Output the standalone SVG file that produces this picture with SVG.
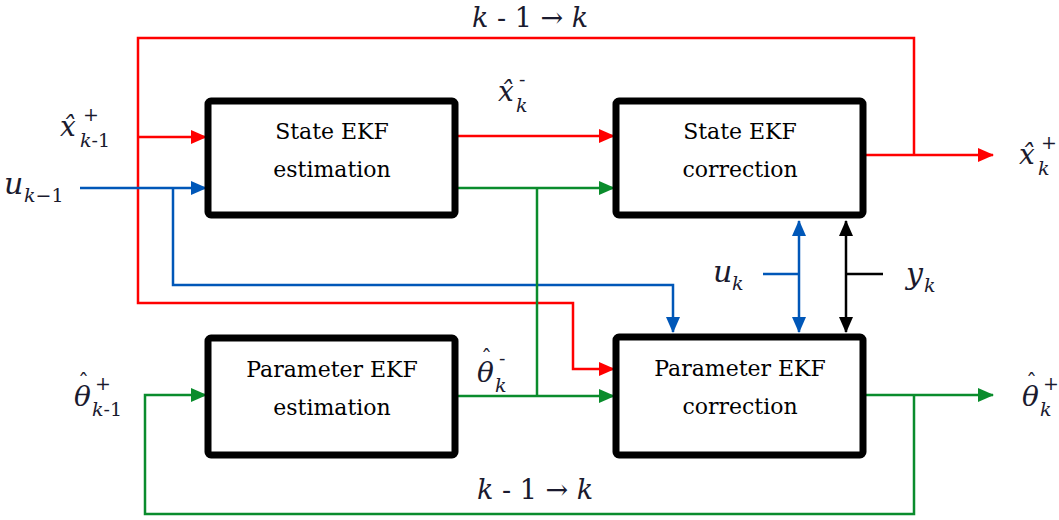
<svg xmlns="http://www.w3.org/2000/svg" width="1059" height="520" viewBox="0 0 1059 520">
<style>
.box{fill:#fff;stroke:#000;stroke-width:7;stroke-linejoin:round}
.bt{font-size:22px;fill:#000;text-anchor:middle}
.m{font-style:italic;fill:#1a1a2e}
.n{font-style:normal;fill:#1a1a2e}
.r{fill:none;stroke:#f00;stroke-width:2.5}
.b{fill:none;stroke:#0057b8;stroke-width:2.5}
.g{fill:none;stroke:#0a8c2c;stroke-width:2.5}
.k{fill:none;stroke:#000;stroke-width:2.5}
</style>
<defs>
<marker id="ar" markerUnits="userSpaceOnUse" markerWidth="16" markerHeight="14" refX="15" refY="7" orient="auto"><path d="M0,0 L16,7 L0,14 Z" fill="#f00"/></marker>
<marker id="ab" markerUnits="userSpaceOnUse" markerWidth="16" markerHeight="14" refX="15" refY="7" orient="auto"><path d="M0,0 L16,7 L0,14 Z" fill="#0057b8"/></marker>
<marker id="ag" markerUnits="userSpaceOnUse" markerWidth="16" markerHeight="14" refX="15" refY="7" orient="auto"><path d="M0,0 L16,7 L0,14 Z" fill="#0a8c2c"/></marker>
<marker id="abs" markerUnits="userSpaceOnUse" markerWidth="16" markerHeight="14" refX="15" refY="7" orient="auto-start-reverse"><path d="M0,0 L16,7 L0,14 Z" fill="#0057b8"/></marker>
<marker id="aks" markerUnits="userSpaceOnUse" markerWidth="16" markerHeight="14" refX="15" refY="7" orient="auto-start-reverse"><path d="M0,0 L16,7 L0,14 Z" fill="#000"/></marker>
</defs>
<rect width="1059" height="520" fill="#fff"/>
<g id="connectors">
<path class="r" d="M914,155 V38 H138 V303 H573 V369 H614" marker-end="url(#ar)"/>
<path class="r" d="M138,137 H206" marker-end="url(#ar)"/>
<path class="r" d="M458,136 H614" marker-end="url(#ar)"/>
<path class="r" d="M866,155 H993" marker-end="url(#ar)"/>
<path class="b" d="M80,188 H206" marker-end="url(#ab)"/>
<path class="b" d="M173,188 V285 H673 V332" marker-end="url(#ab)"/>
<path class="b" d="M799,221 V332" marker-start="url(#abs)" marker-end="url(#abs)"/>
<path class="b" d="M763,274 H799"/>
<path class="k" d="M846,221 V332" marker-start="url(#aks)" marker-end="url(#aks)"/>
<path class="k" d="M846,274 H883"/>
<path class="g" d="M458,188 H614" marker-end="url(#ag)"/>
<path class="g" d="M537,188 V396"/>
<path class="g" d="M458,396 H614" marker-end="url(#ag)"/>
<path class="g" d="M866,395 H993" marker-end="url(#ag)"/>
<path class="g" d="M914,395 V514 H145 V395 H206" marker-end="url(#ag)"/>
</g>
<g font-family="DejaVu Serif, Liberation Serif, serif">
<g id="state-est">
<rect class="box" x="208" y="101" width="247" height="114" rx="3"/>
<text class="bt" x="332" y="139">State EKF</text>
<text class="bt" x="332" y="177">estimation</text>
</g>
<g id="state-corr">
<rect class="box" x="616" y="101" width="247" height="114" rx="3"/>
<text class="bt" x="740" y="139">State EKF</text>
<text class="bt" x="740" y="177">correction</text>
</g>
<g id="param-est">
<rect class="box" x="208" y="338" width="247" height="117" rx="3"/>
<text class="bt" x="332" y="377">Parameter EKF</text>
<text class="bt" x="332" y="415">estimation</text>
</g>
<g id="param-corr">
<rect class="box" x="616" y="337" width="247" height="118" rx="3"/>
<text class="bt" x="740" y="376">Parameter EKF</text>
<text class="bt" x="740" y="414">correction</text>
</g>
<g id="labels">
<text class="m" font-size="27" x="472" y="27">k <tspan font-style="normal">- 1 → </tspan>k</text>
<text class="m" font-size="27" x="477" y="499">k <tspan font-style="normal">- 1 → </tspan>k</text>
<text class="m" font-size="28" x="60" y="136">x̂</text>
<text class="n" font-size="19" x="83" y="121">+</text>
<text class="m" font-size="19" x="80" y="147">k<tspan font-style="normal">-1</tspan></text>
<text class="m" font-size="30" x="4" y="194">u</text>
<text class="m" font-size="19" x="24" y="202">k<tspan font-style="normal">−1</tspan></text>
<text class="m" font-size="28" x="498" y="101">x̂</text>
<text class="n" font-size="19" x="519" y="86">-</text>
<text class="m" font-size="19" x="516" y="112">k</text>
<text class="m" font-size="28" x="1019" y="164">x̂</text>
<text class="n" font-size="19" x="1041" y="149">+</text>
<text class="m" font-size="19" x="1038" y="175">k</text>
<text class="m" font-size="28" x="74" y="406">θ<tspan font-style="normal" font-size="22" x="78" y="390">ˆ</tspan><tspan font-style="normal" font-size="19" x="95" y="390">+</tspan><tspan font-size="19" x="92" y="416">k</tspan><tspan font-style="normal" font-size="19">-1</tspan></text>
<text class="m" font-size="28" x="477" y="382">θ<tspan font-style="normal" font-size="22" x="481" y="366">ˆ</tspan><tspan font-style="normal" font-size="19" x="499" y="365">-</tspan><tspan font-size="19" x="495" y="392">k</tspan></text>
<text class="m" font-size="28" x="1022" y="406">θ<tspan font-style="normal" font-size="22" x="1026" y="390">ˆ</tspan><tspan font-style="normal" font-size="19" x="1043" y="390">+</tspan><tspan font-size="19" x="1040" y="416">k</tspan></text>
<text class="m" font-size="30" x="713" y="282">u</text>
<text class="m" font-size="19" x="732" y="290">k</text>
<text class="m" font-size="30" x="906" y="284">y</text>
<text class="m" font-size="19" x="924" y="292">k</text>
</g>
</g>
</svg>
